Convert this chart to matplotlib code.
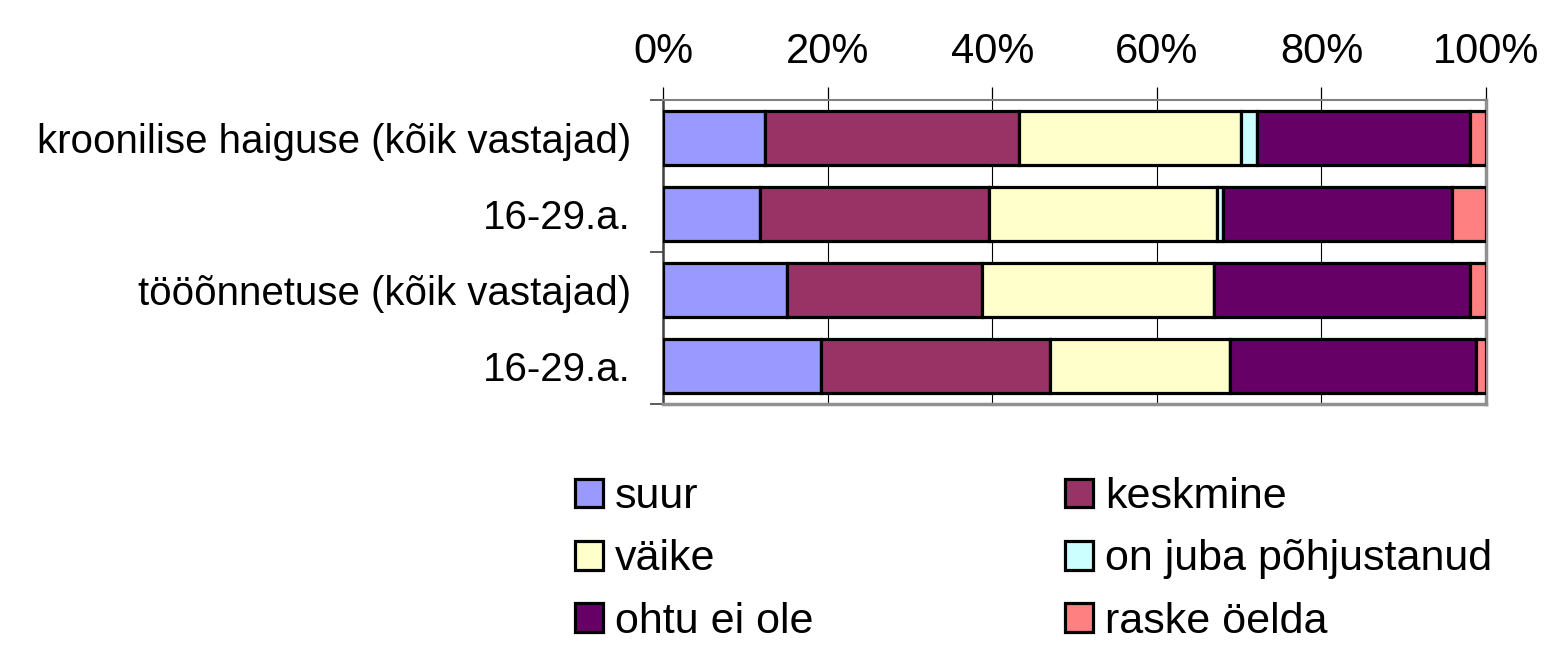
import numpy as np
import matplotlib
matplotlib.use('Agg')
import matplotlib.pyplot as plt
from matplotlib.ticker import FixedLocator

plt.rcParams['font.family'] = ['Liberation Sans', 'DejaVu Sans']

# data (percent of respondents)
categories = ['kroonilise haiguse (kõik vastajad)', '16-29.a.',
              'tööõnnetuse (kõik vastajad)', '16-29.a.']
series_names = ['suur', 'keskmine', 'väike', 'on juba põhjustanud',
                'ohtu ei ole', 'raske öelda']
suur = [12.4, 11.8, 15.1, 19.2]
keskmine = [30.8, 27.8, 23.7, 27.8]
vaike = [27.0, 27.7, 28.1, 21.9]
on_juba = [2.0, 0.8, 0.0, 0.0]
ohtu_ei_ole = [25.8, 27.8, 31.1, 29.9]
raske = [2.0, 4.1, 2.0, 1.2]
colors = ['#9999FF', '#993366', '#FFFFCC', '#CCFFFF', '#660066', '#FF8080']
xtick_labels = ['0%', '20%', '40%', '60%', '80%', '100%']

values = np.array([suur, keskmine, vaike, on_juba, ohtu_ei_ole, raske])
values = values / values.sum(axis=0) * 100

fig = plt.figure(figsize=(15.51, 6.5), dpi=100)
ax = fig.add_axes([663 / 1551, 1 - 404 / 650, 823 / 1551, 304 / 650])

y = np.arange(len(categories))
left = np.zeros(len(categories))
bars = []
for vals, name, col in zip(values, series_names, colors):
    b = ax.barh(y, vals, left=left, height=0.70, color=col,
                edgecolor='black', linewidth=2.3, label=name, zorder=3)
    bars.append(b)
    left += vals

ax.set_xlim(0, 100)
ax.set_ylim(len(categories) - 0.5, -0.5)

# x axis on top
ax.xaxis.tick_top()
ax.set_xticks(np.arange(0, 101, 20))
ax.set_xticklabels(xtick_labels, fontsize=30)
ax.tick_params(axis='x', which='major', direction='out', length=9.5,
               width=0.9, color='black', pad=11)
ax.grid(axis='x', color='black', linewidth=0.8, zorder=0)

# y axis: labels at bar centers, ticks between groups of two
ax.yaxis.set_major_locator(FixedLocator([-0.5, 1.5, 3.5]))
ax.yaxis.set_minor_locator(FixedLocator(y))
ax.set_yticklabels([])
ax.set_yticklabels(categories, minor=True, fontsize=29)
ax.tick_params(axis='y', which='major', length=9.5, width=1.2, color='#404040')
ax.tick_params(axis='y', which='minor', length=0, pad=23)

for side, lw, col in [('top', 1.5, '#808080'), ('left', 1.8, '#404040'),
                      ('right', 2.5, '#909090'), ('bottom', 2.5, '#909090')]:
    ax.spines[side].set_linewidth(lw)
    ax.spines[side].set_color(col)

# legend: two columns, filled row by row
leg_kw = dict(frameon=False, fontsize=31, handlelength=0.65, handleheight=0.65,
              handletextpad=0.28, labelspacing=0.52, borderpad=0,
              borderaxespad=0, loc='upper left', bbox_transform=fig.transFigure)
leg1 = ax.legend([bars[0], bars[2], bars[4]],
                 [series_names[0], series_names[2], series_names[4]],
                 bbox_to_anchor=(575 / 1551, 1 - 477 / 650), **leg_kw)
ax.add_artist(leg1)
ax.legend([bars[1], bars[3], bars[5]],
          [series_names[1], series_names[3], series_names[5]],
          bbox_to_anchor=(1065 / 1551, 1 - 477 / 650), **leg_kw)

fig.savefig('out.png', dpi=100)
